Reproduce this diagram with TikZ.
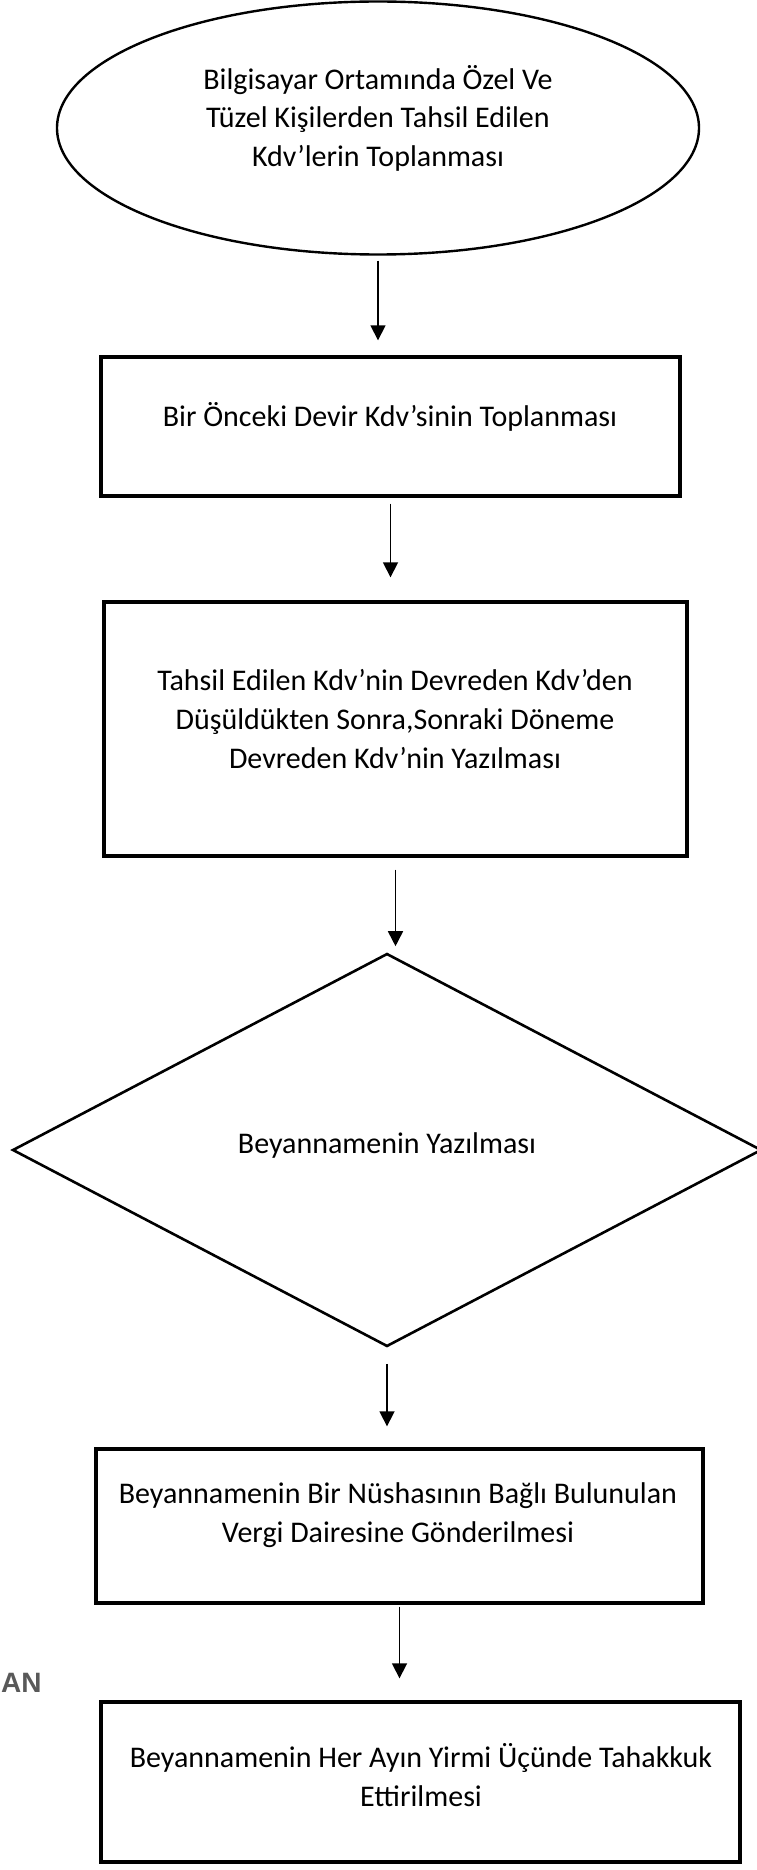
\documentclass[tikz,border=0pt]{standalone}
\usepackage{fontspec}
\setmainfont{Carlito}
\newfontfamily\scanfont{Liberation Sans}
\usetikzlibrary{shapes.geometric,arrows.meta}

\begin{document}
\begin{tikzpicture}[x=1pt, y=-1pt,
  box/.style={draw, rectangle, line width=3.4pt, inner sep=0pt},
  arr/.style={-{Triangle[length=15pt,width=15pt]}, line width=1.7pt},
  lbl/.style={align=center, font=\fontsize{30}{38.6}\selectfont}]
\useasboundingbox (0,0) rectangle (756,1870);
% shapes
\node[draw, ellipse, line width=2.4pt, inner sep=0pt, minimum width=642pt, minimum height=253pt] (e1) at (378,128) {};
\node[box, minimum width=579pt, minimum height=139pt] (b1) at (390.5,426.5) {};
\node[box, minimum width=583pt, minimum height=254pt] (b2) at (395.5,729) {};
\node[draw, diamond, line width=2.6pt, inner sep=0pt, minimum width=749pt, minimum height=393pt] (d1) at (387,1150) {};
\node[box, minimum width=607pt, minimum height=154pt] (b3) at (399.5,1526) {};
\node[box, minimum width=639pt, minimum height=160pt] (b4) at (420.5,1782) {};
% texts
\node[lbl] (t0) at (378,118) {Bilgisayar Ortamında Özel Ve\\Tüzel Kişilerden Tahsil Edilen\\Kdv’lerin Toplanması};
\node[lbl] (t1) at (390,417) {Bir Önceki Devir Kdv’sinin Toplanması};
\node[lbl] (t2) at (395,719) {Tahsil Edilen Kdv’nin Devreden Kdv’den\\Düşüldükten Sonra,Sonraki Döneme\\Devreden Kdv’nin Yazılması};
\node[lbl] (t3) at (387,1145) {Beyannamenin Yazılması};
\node[lbl] (t4) at (398,1515) {Beyannamenin Bir Nüshasının Bağlı Bulunulan\\Vergi Dairesine Gönderilmesi};
\node[lbl] (t5) at (421,1775) {Beyannamenin Her Ayın Yirmi Üçünde Tahakkuk\\Ettirilmesi};
\node[anchor=west, text=black!65, font=\scanfont\bfseries\fontsize{28}{32}\selectfont, inner sep=0pt] (t6) at (1,1683) {AN};
% arrows
\draw[arr, shorten <=5pt, shorten >=15pt] (e1.south) -- (e1.south |- b1.north);
\draw[arr, shorten <=6pt, shorten >=23pt] (b1.south) -- (b1.south |- b2.north);
\draw[arr, shorten <=12pt, shorten >=6pt] (b2.south) -- (b2.south |- d1.north);
\draw[arr, shorten <=16pt, shorten >=21pt] (d1.south) -- (d1.south |- b3.north);
\draw[arr, shorten <=2pt, shorten >=22pt] (b3.south) -- (b3.south |- b4.north);
\end{tikzpicture}
\end{document}
